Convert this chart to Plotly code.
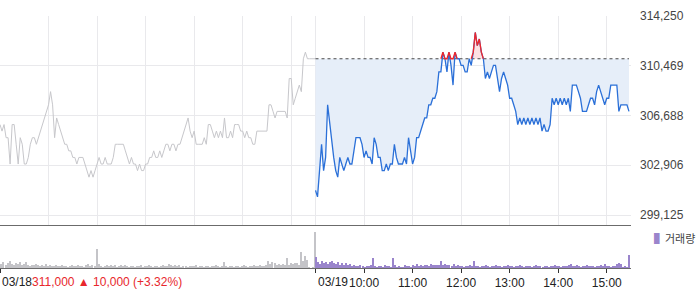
import numpy as np
import plotly.graph_objects as go

# ---------------- data ----------------
prev_close = 311000  # 03/18 close (dotted reference line)

day1_price = [
    306000, 305500, 306000, 305000, 305000, 303000, 306000, 306000, 304500, 303000,
    305000, 304500, 303000, 303000, 303500, 304500, 305000, 305000, 304500, 305000,
    305500, 306000, 306500, 307000, 307500, 308500, 307500, 305000, 306500, 306000,
    305500, 305000, 304500, 304500, 304000, 304000, 303500, 303500, 303000, 303500,
    303500, 303500, 303000, 302500, 302000, 302500, 302000, 302500, 303000, 303500,
    303000, 303000, 303500, 303000, 303000, 303000, 303500, 304500, 304500, 304500,
    304500, 304500, 304000, 303500, 303000, 303500, 303000, 303000, 302500, 303000,
    302500, 302500, 303000, 303000, 303500, 303500, 304000, 303500, 303500, 304000,
    303500, 304000, 304500, 304500, 304000, 304500, 304500, 304000, 304500, 304500,
    305000, 305500, 306000, 306500, 305500, 305000, 305500, 304500, 304500, 304500,
    304500, 305000, 304500, 306000, 306000, 305500, 305000, 305500, 305000, 305500,
    305000, 306500, 305000, 305000, 305500, 305000, 306000, 306000, 306000, 305500,
    305500, 305000, 305500, 305000, 305000, 304500, 304500, 305500, 305500, 305500,
    305500, 305500, 305500, 307500, 307500, 307000, 306500, 307000, 307000, 307000,
    307000, 307000, 306500, 309500, 309500, 307500, 308000, 308500, 309000, 308500,
    311000, 311500, 311000, 311000, 311000, 311000, 311000,
]

day2_price = [
    301000, 300500, 302500, 304500, 302500, 303500, 307500, 306000, 304500, 303500,
    302500, 302000, 303500, 303000, 302500, 303000, 303500, 303000, 303000, 304000,
    305000, 305000, 305000, 304500, 303500, 304000, 303500, 303500, 303000, 305000,
    304500, 303500, 303500, 302500, 302500, 303000, 302500, 303000, 303000, 304500,
    303500, 303000, 303000, 303000, 303500, 303000, 305000, 304000, 303000, 303500,
    305000, 305000, 305500, 306000, 306500, 306500, 307500, 307500, 308000, 308000,
    308500, 310000, 310000, 311500, 311000, 310000, 311500, 310500, 309000, 311500,
    311000, 311000, 310500, 310500, 310000, 310000, 311000, 310500, 311500, 313000,
    312000, 312500, 311500, 311000, 309500, 310000, 309500, 310000, 310500, 310500,
    309500, 308500, 309500, 310000, 309500, 309000, 308000, 308000, 307500, 307000,
    306000, 306500, 306000, 306500, 306000, 306500, 306000, 306500, 306000, 306500,
    306000, 306500, 305500, 306000, 305500, 305500, 306000, 308000, 307500, 308000,
    307500, 308000, 307500, 308000, 307500, 308000, 307000, 309000, 309000, 309000,
    308500, 308000, 307000, 307000, 307000, 307500, 308000, 308000, 307500, 308500,
    309000, 308500, 308000, 307500, 308000, 308000, 309000, 309000, 309000, 309000,
    307000, 307500, 307500, 307500, 307500, 307000,
]

day1_volume = [
    10, 4, 6, 3, 5, 7, 4, 3, 5, 4, 6, 3, 4, 6, 3, 2, 3, 3, 4, 3,
    2, 3, 2, 4, 2, 3, 2, 2, 3, 2, 2, 3, 2, 2, 1, 2, 3, 2, 2, 3,
    2, 2, 1, 3, 4, 2, 3, 2, 19, 4, 2, 1, 2, 3, 2, 3, 2, 3, 1, 2,
    3, 2, 3, 2, 1, 2, 2, 1, 2, 2, 3, 1, 2, 2, 3, 2, 1, 2, 2, 1,
    2, 3, 2, 2, 4, 3, 2, 3, 2, 3, 1, 2, 2, 1, 2, 2, 2, 3, 1, 2,
    2, 1, 2, 2, 1, 2, 2, 3, 2, 1, 2, 6, 2, 1, 2, 2, 1, 2, 2, 1,
    2, 3, 2, 1, 2, 2, 3, 2, 2, 3, 2, 2, 3, 7, 4, 6, 5, 3, 4, 3,
    4, 3, 10, 3, 5, 4, 5, 5, 3, 16, 7, 12, 8, 1, 0, 1, 36,
]

day2_volume = [
    11, 6, 4, 7, 5, 6, 4, 6, 7, 5, 4, 6, 3, 5, 3, 5, 3, 4, 2, 3,
    2, 2, 3, 2, 1, 2, 2, 3, 10, 2, 1, 2, 2, 1, 3, 2, 2, 1, 10, 3,
    1, 2, 1, 1, 3, 2, 2, 1, 3, 2, 4, 2, 3, 2, 3, 3, 2, 4, 3, 3,
    3, 3, 7, 3, 4, 3, 3, 2, 4, 2, 3, 2, 2, 1, 2, 2, 3, 2, 7, 2,
    2, 1, 2, 2, 3, 2, 1, 2, 2, 3, 2, 2, 1, 2, 2, 3, 2, 2, 1, 2,
    2, 3, 2, 1, 2, 2, 2, 1, 2, 3, 2, 2, 1, 2, 2, 1, 2, 2, 3, 2,
    2, 1, 2, 2, 2, 3, 4, 2, 2, 3, 2, 1, 2, 2, 3, 2, 2, 2, 1, 2,
    2, 3, 2, 4, 2, 2, 1, 2, 2, 4, 5, 4, 1, 2, 1, 13,
]

# minutes since 09:00 on 03/18 (each session spans 390 minutes, sampled every 2.5 min)
session_len = 390
step = 2.5
day1_t = np.arange(len(day1_price)) * step
day2_t = session_len + np.arange(len(day2_price)) * step

y_ticks = [299125, 302906.25, 306687.5, 310468.75, 314250]
y_ticktext = ["299,125", "302,906", "306,688", "310,469", "314,250"]

hour_ticks = [450, 510, 570, 630, 690, 750]
hour_labels = ["10:00", "11:00", "12:00", "13:00", "14:00", "15:00"]
grid_x = [60, 120, 180, 240, 300, 360, 390] + hour_ticks

# ---------------- styles ----------------
GRAY_LINE = "#c7c7cb"
BLUE = "#2b70d8"
BLUE_FILL = "#e6eef9"
RED = "#f0262b"
RED_FILL = "#fde0e2"
VOL_GRAY = "#c4c4c8"
VOL_PURPLE = "#9a85cc"
FONT = "Liberation Sans, Arial, sans-serif"

p2 = np.array(day2_price, dtype=float)
base = np.full_like(p2, prev_close)
below = np.minimum(p2, base)
above = np.maximum(p2, base)
up = p2 > prev_close
red_mask = up | np.r_[up[1:], False] | np.r_[False, up[:-1]]
red_line = np.where(red_mask, above, np.nan)

fig = go.Figure()

# day 1 line
fig.add_trace(go.Scatter(x=day1_t, y=day1_price, mode="lines",
                         line=dict(color=GRAY_LINE, width=1), hoverinfo="skip"))
# fill below baseline (blue)
fig.add_trace(go.Scatter(x=day2_t, y=base, mode="lines", line=dict(width=0), hoverinfo="skip"))
fig.add_trace(go.Scatter(x=day2_t, y=below, mode="lines", line=dict(width=0),
                         fill="tonexty", fillcolor=BLUE_FILL, hoverinfo="skip"))
# fill above baseline (red)
fig.add_trace(go.Scatter(x=day2_t, y=base, mode="lines", line=dict(width=0), hoverinfo="skip"))
fig.add_trace(go.Scatter(x=day2_t, y=above, mode="lines", line=dict(width=0),
                         fill="tonexty", fillcolor=RED_FILL, hoverinfo="skip"))
# previous close dotted line
fig.add_trace(go.Scatter(x=[day2_t[0], day2_t[-1]], y=[prev_close, prev_close], mode="lines",
                         line=dict(color="#4a4a4a", width=1, dash="dot"), hoverinfo="skip"))
# day 2 price line
fig.add_trace(go.Scatter(x=day2_t, y=p2, mode="lines",
                         line=dict(color=BLUE, width=1.3), hoverinfo="skip"))
fig.add_trace(go.Scatter(x=day2_t, y=red_line, mode="lines", connectgaps=False,
                         line=dict(color=RED, width=1.3), hoverinfo="skip"))

# volume
fig.add_trace(go.Bar(x=day1_t, y=day1_volume, width=1.3, offset=-1.3,
                     marker=dict(color=VOL_GRAY, line=dict(width=0)),
                     xaxis="x2", yaxis="y2", hoverinfo="skip"))
fig.add_trace(go.Bar(x=day2_t, y=day2_volume, width=1.3, offset=0,
                     marker=dict(color=VOL_PURPLE, line=dict(width=0)),
                     xaxis="x2", yaxis="y2", hoverinfo="skip"))

H_TOP, H_BOT = 16, 21
plot_h = 289 - H_TOP - H_BOT
main_bottom_px = 225
vol_top_px = 226
main_dom0 = (289 - H_BOT - main_bottom_px) / plot_h
vol_dom1 = (289 - H_BOT - vol_top_px) / plot_h

fig.update_layout(
    width=700, height=289,
    margin=dict(l=0, r=69, t=H_TOP, b=H_BOT),
    paper_bgcolor="white", plot_bgcolor="white",
    showlegend=False,
    font=dict(family=FONT, size=12, color="#333333"),
    xaxis=dict(domain=[0, 1], anchor="y", range=[0, 780],
               tickvals=grid_x, showticklabels=False, ticks="",
               showgrid=True, gridcolor="#e9e9ec", gridwidth=1,
               showline=True, linecolor="#6b6b6b", linewidth=1,
               zeroline=False, fixedrange=True),
    yaxis=dict(domain=[main_dom0, 1], anchor="x", side="right",
               range=[298365, 314250],
               tickvals=y_ticks, ticktext=y_ticktext,
               ticks="", ticklabelstandoff=8,
               tickfont=dict(family=FONT, size=12, color="#444444"),
               showgrid=True, gridcolor="#e9e9ec", gridwidth=1,
               zeroline=False, showline=False),
    xaxis2=dict(domain=[0, 1], anchor="y2", matches="x", range=[0, 780],
                tickvals=[0, 390] + hour_ticks, ticktext=["", ""] + hour_labels,
                ticks="outside", ticklen=4, tickcolor="#333333", tickwidth=1,
                tickfont=dict(family=FONT, size=12, color="#222222"),
                showgrid=False, showline=True, linecolor="#6b6b6b", linewidth=1,
                zeroline=False),
    yaxis2=dict(domain=[0, vol_dom1], anchor="x2", side="right", range=[0, 42],
                showticklabels=False, showgrid=False, zeroline=False, ticks=""),
    bargap=0,
)

label_y = -14 / plot_h
fig.add_annotation(xref="paper", yref="paper", x=0, y=label_y, xanchor="left", yanchor="middle",
                   showarrow=False, font=dict(family=FONT, size=12, color="#222222"),
                   text="03/18<span style='color:#e8272c'>311,000 ▲ 10,000 (+3.32%)</span>")
fig.add_annotation(xref="x2", yref="paper", x=session_len, y=label_y, xanchor="left", yanchor="middle",
                   showarrow=False, font=dict(family=FONT, size=12, color="#222222"),
                   text="03/19")
fig.add_annotation(xref="paper", yref="paper", x=652 / 631, y=(289 - H_BOT - 238) / plot_h,
                   xanchor="left", yanchor="middle", showarrow=False,
                   font=dict(family="Noto Sans CJK KR", size=11, color="#444444"),
                   text=f"<span style='color:{VOL_PURPLE}'>▌</span>거래량")

fig.write_html("out.html")
